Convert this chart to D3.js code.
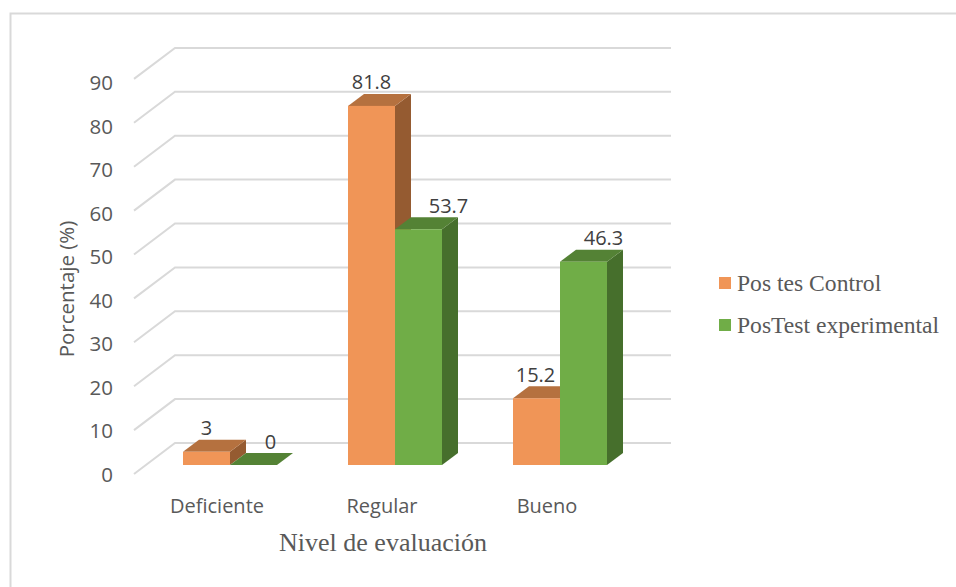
<!DOCTYPE html>
<html><head><meta charset="utf-8">
<script src="https://cdn.jsdelivr.net/npm/d3@7/dist/d3.min.js"></script>
<style>html,body{margin:0;background:#fff}svg{display:block}</style></head>
<body><svg id="c" width="956" height="587"></svg>
<script>
const categories = ["Deficiente", "Regular", "Bueno"];
const seriesNames = ["Pos tes Control", "PosTest experimental"];
const controlValues = [3, 81.8, 15.2];
const experimentalValues = [0, 53.7, 46.3];
const yTicks = [0, 10, 20, 30, 40, 50, 60, 70, 80, 90];

const palette = [
  {front: "#f09557", top: "#b5713f", side: "#955b31"},
  {front: "#70ad47", top: "#548235", side: "#466f2c"}
];
const series = [controlValues, experimentalValues];

const svg = d3.select("#c");
const y = d3.scaleLinear().domain([0, 90]).range([465, 69.9]);
const tickY = d3.scaleLinear().domain([0, 90]).range([482, 90]);
const x = d3.scaleBand().domain(categories).range([147.5, 642.5]);
const inner = d3.scaleBand().domain([0, 1]).range([0, 94]);
const off = (x.bandwidth() - 94) / 2;
const depth = {dx: 16, dy: 12};      // bar extrusion
const wall = {dx: 41, dy: 31};       // wall-to-front offset of the floor
const sans = "'Open Sans'", serif = "'Liberation Serif'";

// second-series labels sit to the right so they clear the neighbouring bar
const labelShift = [[0, 17], [0, 30], [-1, 20]];

// chart frame, open past the right and bottom edges of the page
svg.append("rect").attr("x", 10.5).attr("y", 13.5).attr("width", 950).attr("height", 600)
  .attr("fill", "#fff").attr("stroke", "#d9d9d9").attr("stroke-width", 2);

// L-shaped gridlines: short slanted part on the side wall, long part on the back wall
const gy = v => y(v) - 22;
svg.append("g").selectAll("path").data(yTicks).join("path")
  .attr("d", v => `M134,${gy(v) + wall.dy}L175,${gy(v)}H671`)
  .attr("fill", "none").attr("stroke", "#d9d9d9").attr("stroke-width", 2);

// tick labels
svg.append("g").selectAll("text").data(yTicks).join("text")
  .attr("x", 113).attr("y", v => tickY(v)).attr("text-anchor", "end")
  .attr("font-family", sans).attr("font-size", 20.5).attr("fill", "#595959")
  .text(d => d);

// bars: side and top faces first so the next bar's front covers them
const barsG = svg.append("g");
const labelsG = svg.append("g");
categories.forEach((c, ci) => {
  series.forEach((vals, si) => {
    const v = vals[ci], c0 = palette[si];
    const x0 = x(c) + off + inner(si), w = inner.bandwidth();
    const yT = y(v), yB = y(0);
    const g = barsG.append("g");
    g.append("path").attr("fill", c0.side)
      .attr("d", `M${x0 + w},${yT}l${depth.dx},${-depth.dy}V${yB - depth.dy}L${x0 + w},${yB}Z`);
    g.append("path").attr("fill", c0.top)
      .attr("d", `M${x0},${yT}l${depth.dx},${-depth.dy}h${w}l${-depth.dx},${depth.dy}Z`);
    g.append("rect").attr("x", x0).attr("y", yT).attr("width", w).attr("height", yB - yT)
      .attr("fill", c0.front);
    labelsG.append("text")
      .attr("x", x0 + w / 2 + labelShift[ci][si])
      .attr("y", yT - 16.5).attr("text-anchor", "middle")
      .attr("font-family", sans).attr("font-size", 20).attr("fill", "#404040")
      .text(v);
  });
});

// category labels
svg.append("g").selectAll("text").data(categories).join("text")
  .attr("x", c => x(c) + x.bandwidth() / 2 - 13)
  .attr("y", 513).attr("text-anchor", "middle")
  .attr("font-family", sans).attr("font-size", 20).attr("fill", "#595959")
  .text(d => d);

// axis titles
svg.append("text").attr("transform", "translate(74,289) rotate(-90)").attr("text-anchor", "middle")
  .attr("font-family", sans).attr("font-size", 20.5).attr("fill", "#595959").text("Porcentaje (%)");
svg.append("text").attr("x", 383).attr("y", 551).attr("text-anchor", "middle")
  .attr("font-family", serif).attr("font-size", 26).attr("fill", "#595959").text("Nivel de evaluación");

// legend
const legend = svg.append("g").selectAll("g").data(seriesNames).join("g")
  .attr("transform", (d, i) => `translate(719,${277 + i * 42})`);
legend.append("rect").attr("width", 12).attr("height", 12).attr("fill", (d, i) => palette[i].front);
legend.append("text").attr("x", 18).attr("y", 14).attr("font-family", serif)
  .attr("font-size", 23.6).attr("fill", "#595959").text(d => d);
</script></body></html>
